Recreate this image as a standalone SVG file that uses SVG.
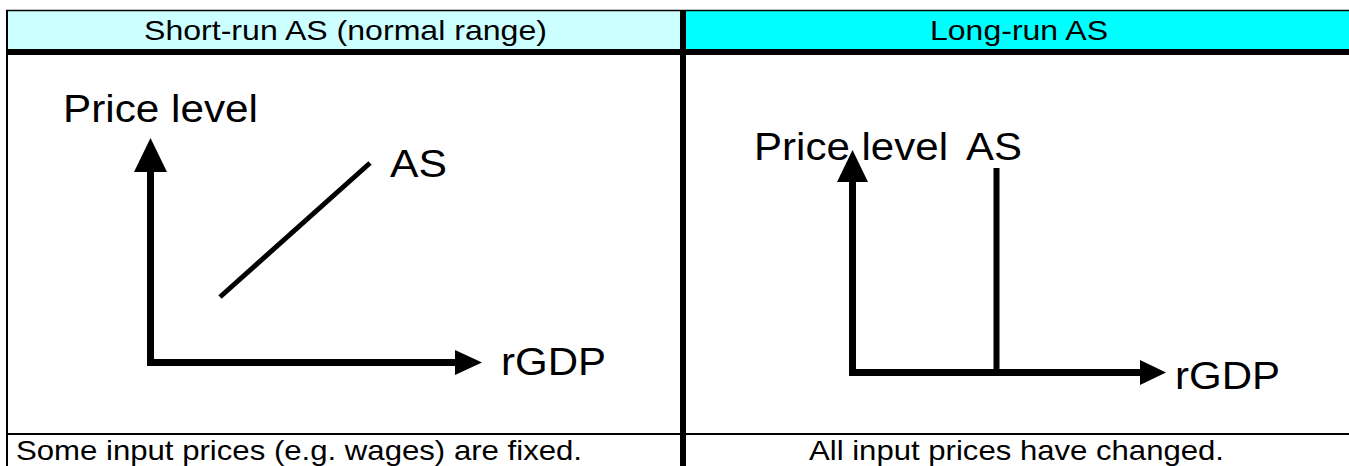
<svg xmlns="http://www.w3.org/2000/svg" width="1349" height="466" viewBox="0 0 1349 466">
<style>
.t{font-family:"Liberation Sans",Arial,sans-serif;fill:#000}
.h{font-size:28px}
.b{font-size:38px}
.ax{stroke:#000;stroke-width:7;fill:none}
.ln{stroke:#000;stroke-width:5;fill:none}
</style>
<rect width="1349" height="466" fill="#fff"/>
<g id="table">
<rect x="7" y="10" width="673" height="40" fill="#ccffff"/>
<rect x="686" y="10" width="663" height="40" fill="#00ffff"/>
<line x1="6" y1="10.5" x2="1349" y2="10.5" stroke="#000" stroke-width="1.5"/>
<line x1="7" y1="10" x2="7" y2="466" stroke="#000" stroke-width="2"/>
<line x1="6" y1="52" x2="1349" y2="52" stroke="#000" stroke-width="6"/>
<line x1="6" y1="434" x2="1349" y2="434" stroke="#000" stroke-width="2"/>
<line x1="683" y1="10" x2="683" y2="466" stroke="#000" stroke-width="6"/>
</g>
<g id="header-left"><text class="t h" x="144" y="40" textLength="403" lengthAdjust="spacingAndGlyphs">Short-run AS (normal range)</text></g>
<g id="header-right"><text class="t h" x="930" y="40" textLength="178" lengthAdjust="spacingAndGlyphs">Long-run AS</text></g>
<g id="footer-left"><text class="t h" x="16" y="460" textLength="566" lengthAdjust="spacingAndGlyphs">Some input prices (e.g. wages) are fixed.</text></g>
<g id="footer-right"><text class="t h" x="809" y="460" textLength="415" lengthAdjust="spacingAndGlyphs">All input prices have changed.</text></g>
<g id="chart-left">
<polyline class="ax" points="150.5,170 150.5,362.5 458,362.5"/>
<polygon points="150.5,138 134,172 167,172"/>
<polygon points="482,362.5 455,350 455,375"/>
<line class="ln" x1="220" y1="297" x2="370" y2="163"/>
<text class="t b" x="63" y="122" textLength="195" lengthAdjust="spacingAndGlyphs">Price level</text>
<text class="t b" x="390" y="177" textLength="57" lengthAdjust="spacingAndGlyphs">AS</text>
<text class="t b" x="501" y="375" textLength="105" lengthAdjust="spacingAndGlyphs">rGDP</text>
</g>
<g id="chart-right">
<polyline class="ax" points="852.5,180 852.5,372.5 1142,372.5"/>
<polygon points="852.5,150 837,182 868,182"/>
<polygon points="1166,372.5 1140,360 1140,385"/>
<line x1="996.5" y1="168" x2="996.5" y2="372" stroke="#000" stroke-width="6"/>
<text class="t b" x="754" y="160" textLength="194" lengthAdjust="spacingAndGlyphs">Price level</text>
<text class="t b" x="966" y="160" textLength="56" lengthAdjust="spacingAndGlyphs">AS</text>
<text class="t b" x="1175" y="389" textLength="105" lengthAdjust="spacingAndGlyphs">rGDP</text>
</g>
</svg>
